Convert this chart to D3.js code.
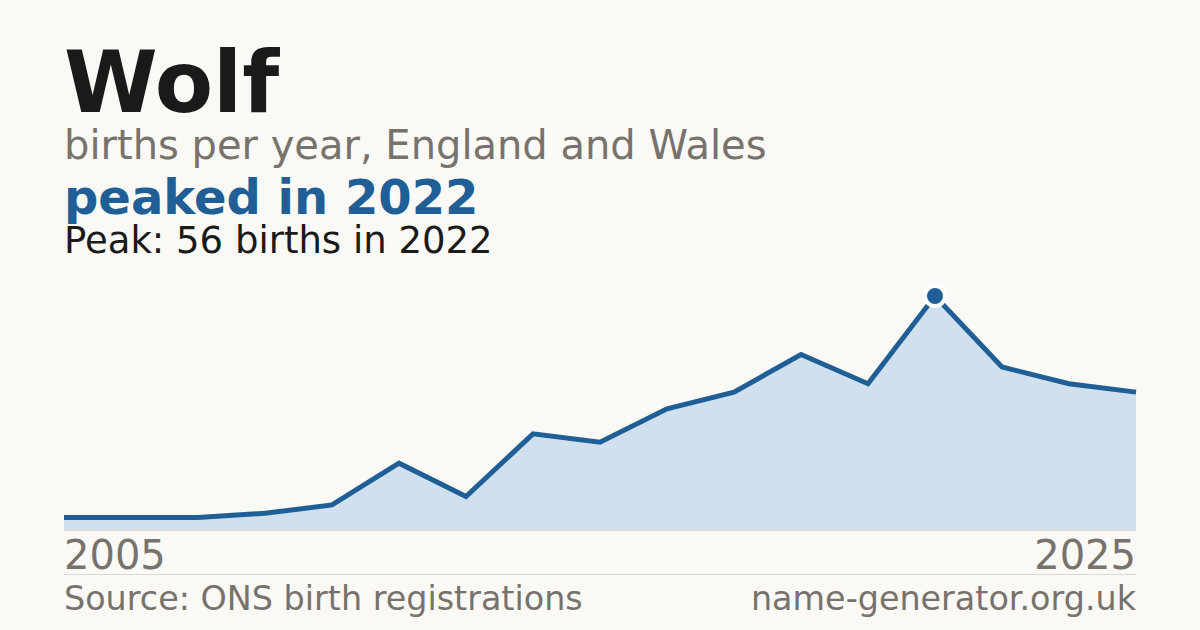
<!DOCTYPE html>
<html>
<head>
<meta charset="utf-8">
<script src="https://cdn.jsdelivr.net/npm/d3@7"></script>
<style>
  html, body { margin: 0; padding: 0; background: #faf9f5; }
  svg { display: block; font-family: "DejaVu Sans", sans-serif; }
</style>
</head>
<body>
<svg id="chart" width="1200" height="630"></svg>
<script>
// years with registrations (gaps are years under the 3-birth threshold)
var years = [2005, 2007, 2009, 2011, 2013, 2014, 2015, 2016, 2017, 2018, 2019, 2020, 2021, 2022, 2023, 2024, 2025];
var births = [3, 3, 3, 4, 6, 16, 8, 23, 21, 29, 33, 42, 35, 56, 39, 35, 33];
var axisLabels = ['2005', '2025'];

var name = 'Wolf';
var subtitle = 'births per year, England and Wales';
var headline = 'peaked in 2022';
var peakNote = 'Peak: 56 births in 2022';
var source = 'Source: ONS birth registrations';
var site = 'name-generator.org.uk';

var blue = '#1f5f96';
var grey = '#77736c';
var ink = '#1a1a1a';

var svg = d3.select('#chart');
var plotLeft = 64, plotRight = 1136, plotTop = 296, plotBottom = 530;

var data = years.map(function (yr, i) { return { year: yr, value: births[i] }; });

var x = d3.scalePoint().domain(years).range([plotLeft, plotRight]);
var y = d3.scaleLinear().domain([0, d3.max(births)]).range([plotBottom, plotTop]);

// header text
svg.append('text').attr('x', plotLeft).attr('y', 112)
  .attr('font-size', 85).attr('font-weight', 'bold').attr('fill', ink).text(name);
svg.append('text').attr('x', plotLeft).attr('y', 159)
  .attr('font-size', 40).attr('fill', grey).text(subtitle);
svg.append('text').attr('x', plotLeft).attr('y', 214)
  .attr('font-size', 48).attr('font-weight', 'bold').attr('fill', blue).text(headline);
svg.append('text').attr('x', plotLeft).attr('y', 253)
  .attr('font-size', 37).attr('fill', ink).text(peakNote);

// area + line
var area = d3.area()
  .x(function (d) { return x(d.year); })
  .y0(plotBottom)
  .y1(function (d) { return y(d.value); });
var line = d3.line()
  .x(function (d) { return x(d.year); })
  .y(function (d) { return y(d.value); });

svg.append('path').datum(data).attr('d', area).attr('fill', '#d0e0ef');
svg.append('line').attr('x1', plotLeft).attr('x2', plotRight)
  .attr('y1', plotBottom + 0.5).attr('y2', plotBottom + 0.5)
  .attr('stroke', '#dcd9d2').attr('stroke-width', 1);
svg.append('path').datum(data).attr('d', line)
  .attr('fill', 'none').attr('stroke', blue).attr('stroke-width', 5)
  .attr('stroke-linejoin', 'miter');

// peak marker
var peak = data[d3.maxIndex(data, function (d) { return d.value; })];
svg.append('circle').attr('cx', x(peak.year)).attr('cy', y(peak.value)).attr('r', 10)
  .attr('fill', blue).attr('stroke', '#ffffff').attr('stroke-width', 4);

// year labels
svg.append('text').attr('x', plotLeft).attr('y', 569)
  .attr('font-size', 40).attr('fill', grey).text(axisLabels[0]);
svg.append('text').attr('x', plotRight).attr('y', 569).attr('text-anchor', 'end')
  .attr('font-size', 40).attr('fill', grey).text(axisLabels[1]);

// footer
svg.append('line').attr('x1', plotLeft).attr('x2', plotRight).attr('y1', 574.5).attr('y2', 574.5)
  .attr('stroke', '#dcd9d2').attr('stroke-width', 1);
svg.append('text').attr('x', plotLeft).attr('y', 610)
  .attr('font-size', 33.4).attr('fill', grey).text(source);
svg.append('text').attr('x', plotRight).attr('y', 610).attr('text-anchor', 'end')
  .attr('font-size', 33.4).attr('fill', grey).text(site);
</script>
</body>
</html>
